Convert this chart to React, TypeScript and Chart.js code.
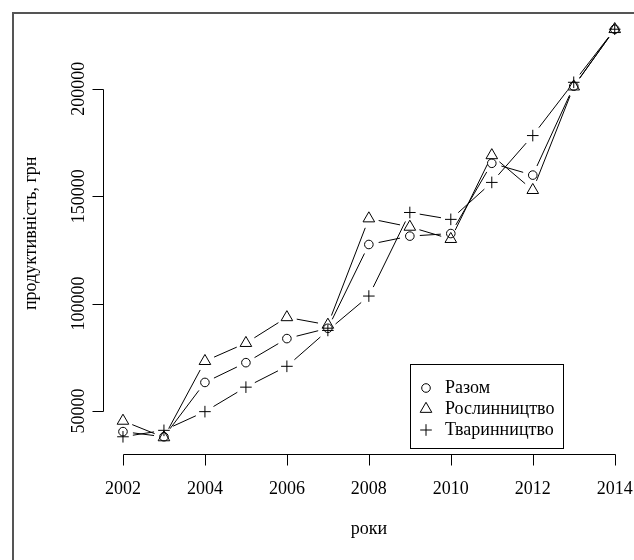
import React, { useEffect, useRef } from 'react';
import { Chart, registerables } from 'chart.js';

Chart.register(...registerables);

// ---- data ----
const years = [2002, 2003, 2004, 2005, 2006, 2007, 2008, 2009, 2010, 2011, 2012, 2013, 2014];
const razom = [40400, 38000, 63300, 72500, 83700, 88500, 127500, 131400, 132600, 165300, 159800, 201200, 227700];
const roslynnytstvo = [45400, 37700, 73200, 81600, 93600, 90100, 139600, 135700, 130000, 169000, 152800, 201000, 227700];
const tvarynnytstvo = [38000, 41000, 49700, 61100, 70800, 87500, 103500, 142400, 139200, 156400, 178200, 203000, 227700];
const seriesLabels = ['Разом', 'Рослинництво', 'Тваринництво'];
const xTicks = [2002, 2004, 2006, 2008, 2010, 2012, 2014];
const yTicks = [50000, 100000, 150000, 200000];
const xTitle = 'роки';
const yTitle = 'продуктивність, грн';

const FONT = '18px "Liberation Serif", "Times New Roman", serif';
const GAP = 10;
const CANVAS_W = 700;
const CANVAS_H = 600;

// R-style 4% extension of the data ranges
const allY = [...razom, ...roslynnytstvo, ...tvarynnytstvo];
const yLo = Math.min(...allY);
const yHi = Math.max(...allY);
const xLo = Math.min(...years);
const xHi = Math.max(...years);
const yMin = yLo - 0.04 * (yHi - yLo);
const yMax = yHi + 0.04 * (yHi - yLo);
const xMin = xLo - 0.04 * (xHi - xLo);
const xMax = xHi + 0.04 * (xHi - xLo);

const styles = ['circle', 'triangle', 'cross'];
const radii = [4.3, 6.7, 5.8];

function drawSymbol(ctx: CanvasRenderingContext2D, style: string, x: number, y: number, r: number) {
  ctx.beginPath();
  if (style === 'circle') {
    ctx.arc(x, y, r, 0, Math.PI * 2);
  } else if (style === 'triangle') {
    for (let k = 0; k < 3; k++) {
      const a = (k * 2 * Math.PI) / 3;
      const px = x + Math.sin(a) * r;
      const py = y - Math.cos(a) * r;
      if (k === 0) ctx.moveTo(px, py);
      else ctx.lineTo(px, py);
    }
    ctx.closePath();
  } else {
    ctx.moveTo(x - r, y);
    ctx.lineTo(x + r, y);
    ctx.moveTo(x, y - r);
    ctx.lineTo(x, y + r);
  }
  ctx.stroke();
}

const rPlot = {
  id: 'rPlot',
  beforeDatasetsDraw(chart: any) {
    const ctx: CanvasRenderingContext2D = chart.ctx;
    ctx.save();
    ctx.strokeStyle = '#000';
    ctx.lineWidth = 1;
    chart.data.datasets.forEach((_ds: any, i: number) => {
      const pts = chart.getDatasetMeta(i).data;
      for (let j = 0; j < pts.length - 1; j++) {
        const a = pts[j];
        const b = pts[j + 1];
        const dx = b.x - a.x;
        const dy = b.y - a.y;
        const d = Math.hypot(dx, dy);
        if (d <= 2 * GAP) continue;
        const ux = dx / d;
        const uy = dy / d;
        ctx.beginPath();
        ctx.moveTo(a.x + ux * GAP, a.y + uy * GAP);
        ctx.lineTo(b.x - ux * GAP, b.y - uy * GAP);
        ctx.stroke();
      }
    });
    ctx.restore();
  },
  afterDraw(chart: any) {
    const ctx: CanvasRenderingContext2D = chart.ctx;
    const xs = chart.scales.x;
    const ys = chart.scales.y;
    const area = chart.chartArea;
    ctx.save();

    // outer frame (figure border, only left/top visible)
    ctx.strokeStyle = '#555';
    ctx.lineWidth = 2;
    ctx.beginPath();
    ctx.moveTo(13, CANVAS_H);
    ctx.lineTo(13, 13);
    ctx.lineTo(CANVAS_W, 13);
    ctx.stroke();

    ctx.strokeStyle = '#000';
    ctx.fillStyle = '#000';
    ctx.lineWidth = 1;
    ctx.font = FONT;

    // x axis
    const yAx = Math.round(area.bottom) + 0.5;
    const x0 = xs.getPixelForValue(xTicks[0]);
    const x1 = xs.getPixelForValue(xTicks[xTicks.length - 1]);
    ctx.beginPath();
    ctx.moveTo(Math.round(x0) + 0.5, yAx);
    ctx.lineTo(Math.round(x1) + 0.5, yAx);
    xTicks.forEach((t) => {
      const px = Math.round(xs.getPixelForValue(t)) + 0.5;
      ctx.moveTo(px, yAx);
      ctx.lineTo(px, yAx + 11);
    });
    ctx.stroke();
    ctx.textAlign = 'center';
    ctx.textBaseline = 'alphabetic';
    xTicks.forEach((t) => {
      ctx.fillText(String(t), xs.getPixelForValue(t), 494);
    });

    // y axis
    const xAx = Math.round(area.left) + 0.5;
    const yA = ys.getPixelForValue(yTicks[0]);
    const yB = ys.getPixelForValue(yTicks[yTicks.length - 1]);
    ctx.beginPath();
    ctx.moveTo(xAx, Math.round(yA) + 0.5);
    ctx.lineTo(xAx, Math.round(yB) + 0.5);
    yTicks.forEach((t) => {
      const py = Math.round(ys.getPixelForValue(t)) + 0.5;
      ctx.moveTo(xAx, py);
      ctx.lineTo(xAx - 11, py);
    });
    ctx.stroke();
    yTicks.forEach((t) => {
      ctx.save();
      ctx.translate(84, ys.getPixelForValue(t));
      ctx.rotate(-Math.PI / 2);
      ctx.textAlign = 'center';
      ctx.textBaseline = 'alphabetic';
      ctx.fillText(String(t), 0, 0);
      ctx.restore();
    });

    // axis titles
    ctx.textAlign = 'center';
    ctx.fillText(xTitle, (area.left + area.right) / 2, 534);
    ctx.save();
    ctx.translate(36, (area.top + area.bottom) / 2);
    ctx.rotate(-Math.PI / 2);
    ctx.fillText(yTitle, 0, 0);
    ctx.restore();

    // legend
    ctx.strokeStyle = '#000';
    ctx.lineWidth = 1;
    ctx.strokeRect(410.5, 364.5, 153, 84);
    const rows = [388, 409, 430];
    seriesLabels.forEach((lab, i) => {
      drawSymbol(ctx, styles[i], 426, rows[i], radii[i]);
      ctx.textAlign = 'left';
      ctx.textBaseline = 'middle';
      ctx.fillText(lab, 445, rows[i]);
    });

    ctx.restore();
  },
};

export default function App() {
  const ref = useRef<HTMLCanvasElement | null>(null);

  useEffect(() => {
    if (!ref.current) return;
    const series = [razom, roslynnytstvo, tvarynnytstvo];
    const chart = new Chart(ref.current, {
      type: 'line',
      data: {
        datasets: series.map((vals, i) => ({
          label: seriesLabels[i],
          data: years.map((yr, j) => ({ x: yr, y: vals[j] })),
          showLine: false,
          pointStyle: styles[i] as any,
          pointRadius: radii[i],
          pointBorderWidth: 1,
          pointBorderColor: '#000',
          pointBackgroundColor: 'rgba(0,0,0,0)',
          borderColor: '#000',
          clip: false as any,
        })),
      },
      options: {
        animation: false,
        responsive: false,
        events: [],
        layout: {
          padding: { left: 103.3, right: CANVAS_W - 634.4, top: 12.9, bottom: CANVAS_H - 453.75 },
        },
        scales: {
          x: { type: 'linear', min: xMin, max: xMax, display: false },
          y: { type: 'linear', min: yMin, max: yMax, display: false },
        },
        plugins: {
          legend: { display: false },
          tooltip: { enabled: false },
        },
      },
      plugins: [rPlot],
    });
    return () => chart.destroy();
  }, []);

  return (
    <div
      style={{
        position: 'fixed',
        left: 0,
        top: 0,
        width: 634,
        height: 560,
        overflow: 'hidden',
        background: '#fff',
      }}
    >
      <canvas ref={ref} width={CANVAS_W} height={CANVAS_H} style={{ display: 'block', width: CANVAS_W, height: CANVAS_H }} />
    </div>
  );
}
